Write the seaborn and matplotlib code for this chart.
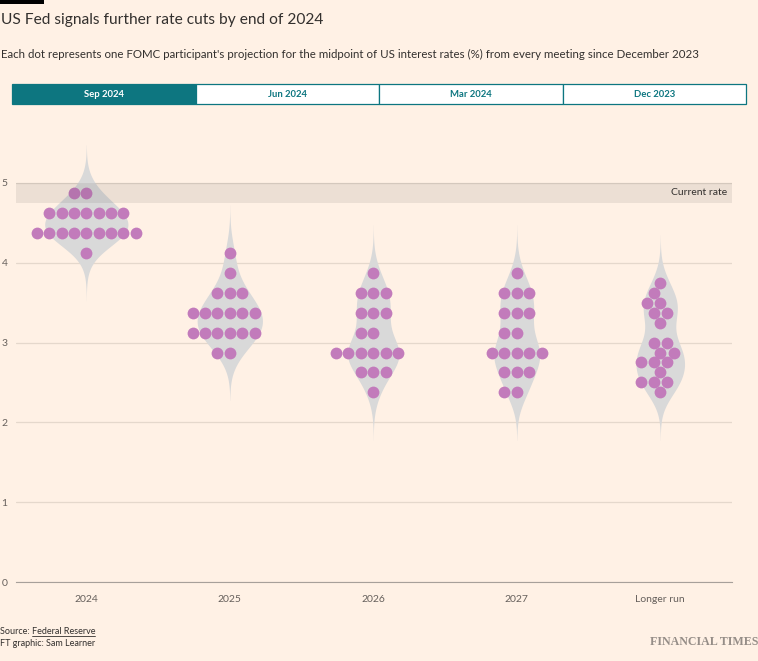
import numpy as np
import pandas as pd
import matplotlib.pyplot as plt
from matplotlib.patches import Rectangle
from matplotlib.lines import Line2D
import seaborn as sns

# Sep 2024 dot plot: projected midpoint levels and number of participants at each
periods = ['2024', '2025', '2026', '2027', 'Longer run']

levels_2024 = [4.875, 4.625, 4.375, 4.125]
counts_2024 = [2, 7, 9, 1]
levels_2025 = [4.125, 3.875, 3.625, 3.375, 3.125, 2.875]
counts_2025 = [1, 1, 3, 6, 6, 2]
levels_2026 = [3.875, 3.625, 3.375, 3.125, 2.875, 2.625, 2.375]
counts_2026 = [1, 3, 3, 2, 6, 3, 1]
levels_2027 = [3.875, 3.625, 3.375, 3.125, 2.875, 2.625, 2.375]
counts_2027 = [1, 3, 3, 2, 5, 3, 2]
levels_long = [3.75, 3.625, 3.5, 3.375, 3.25, 3.0, 2.875, 2.75, 2.625, 2.5, 2.375]
counts_long = [1, 1, 2, 2, 1, 2, 2, 3, 1, 3, 1]

current_rate = (4.75, 5.0)
tabs = ['Sep 2024', 'Jun 2024', 'Mar 2024', 'Dec 2023']

rows = []
for period, levels, counts in zip(
        periods,
        [levels_2024, levels_2025, levels_2026, levels_2027, levels_long],
        [counts_2024, counts_2025, counts_2026, counts_2027, counts_long]):
    for lev, n in zip(levels, counts):
        rows += [{'period': period, 'rate': lev}] * n
df = pd.DataFrame(rows)

BG = '#fff1e5'
TEXT = '#33302e'
MUTED = '#66605c'
TEAL = '#0d7680'

sns.set_style('white')
plt.rcParams['font.family'] = ['Lato', 'DejaVu Sans']

W, H = 758, 661
fig = plt.figure(figsize=(W / 100, H / 100), dpi=100, facecolor=BG)
ax = fig.add_axes([16 / W, 79 / H, 716 / W, (582 - 123) / H])
ax.set_facecolor(BG)

# same kernel width for every group
BW = 0.2
def fixed_bw(kde):
    return BW / np.std(kde.dataset, ddof=1)

sns.violinplot(data=df, x='period', y='rate', order=periods, color='#d9d9d9',
               saturation=1, inner=None, linewidth=0, cut=3, bw_method=fixed_bw,
               width=0.58, density_norm='area', ax=ax)
sns.swarmplot(data=df, x='period', y='rate', order=periods, color='#c27bbb',
              size=8.5, linewidth=0, ax=ax, zorder=3)

ax.axhspan(*current_rate, color=TEXT, alpha=0.09, lw=0, zorder=5)
ax.text(4.465, sum(current_rate) / 2, 'Current rate', ha='right', va='center',
        fontsize=7.5, color=TEXT, zorder=6)

ax.set_xlim(-0.49, 4.5)
ax.set_ylim(0, 5.75)
ax.set_yticks([0, 1, 2, 3, 4, 5])
ax.set_xlabel('')
ax.set_ylabel('')
ax.yaxis.grid(True, color='#e5d8cc', lw=0.9)
ax.set_axisbelow(True)
ax.tick_params(axis='y', length=0, pad=6, labelsize=7.5, labelcolor=MUTED)
ax.tick_params(axis='x', length=5, width=0.8, color='#a7a09a', pad=4,
               labelsize=7.5, labelcolor=MUTED)
sns.despine(ax=ax, left=True)
ax.spines['bottom'].set_color('#a7a09a')
ax.spines['bottom'].set_linewidth(0.8)

# header
fig.add_artist(Rectangle((0, 1 - 4 / H), 44 / W, 4 / H, transform=fig.transFigure,
                         color='black', lw=0))
fig.text(1 / W, 1 - 20 / H, 'US Fed signals further rate cuts by end of 2024',
         fontsize=11.2, color=TEXT, va='center', ha='left')
fig.text(1 / W, 1 - 54 / H,
         "Each dot represents one FOMC participant's projection for the midpoint of "
         "US interest rates (%) from every meeting since December 2023",
         fontsize=8.25, color=TEXT, va='center', ha='left')

tab_w = (746 - 12) / 4
for i, name in enumerate(tabs):
    x0 = 12 + i * tab_w
    active = i == 0
    fig.add_artist(Rectangle((x0 / W, 1 - 104 / H), tab_w / W, 20 / H,
                             transform=fig.transFigure,
                             facecolor=TEAL if active else 'white',
                             edgecolor=TEAL, lw=0.9))
    fig.text((x0 + tab_w / 2) / W, 1 - 94.5 / H, name, ha='center', va='center',
             fontsize=6.8, fontweight='bold', color='white' if active else TEAL)

# footer
src = fig.text(0, 1 - 632 / H, 'Source: ', fontsize=6.5, color=TEXT, va='center')
fig.text(0, 1 - 644 / H, 'FT graphic: Sam Learner', fontsize=6.5, color=TEXT,
         va='center')
fig.text(1, 1 - 642 / H, 'FINANCIAL TIMES', fontsize=8.6, color='#958d87',
         family='Liberation Serif', fontweight='bold', ha='right', va='center')

fig.canvas.draw()
bb = src.get_window_extent()
link = fig.text(bb.x1 / W, 1 - 632 / H, 'Federal Reserve', fontsize=6.5,
                color=TEXT, va='center')
fig.canvas.draw()
lb = link.get_window_extent()
fig.add_artist(Line2D([lb.x0 / W, lb.x1 / W], [(lb.y0 + 0.5) / H] * 2,
                      transform=fig.transFigure, color=TEXT, lw=0.6))

fig.savefig('out.png', dpi=100, facecolor=BG)
